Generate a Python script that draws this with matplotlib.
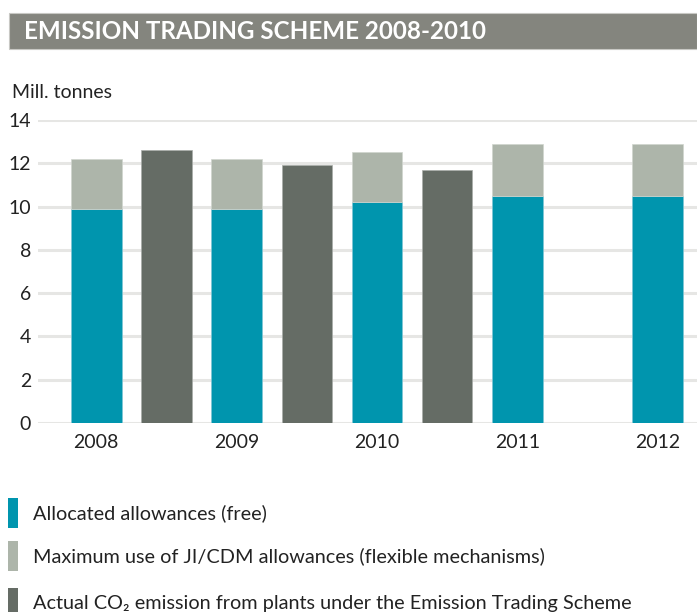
import matplotlib
matplotlib.use("Agg")
import matplotlib.pyplot as plt
from matplotlib.patches import Rectangle

# Data
years = ["2008", "2009", "2010", "2011", "2012"]
allocated = [9.9, 9.9, 10.2, 10.5, 10.5]
jicdm = [2.3, 2.3, 2.3, 2.4, 2.4]
actual_years = ["2008", "2009", "2010"]
actual = [12.6, 11.9, 11.7]

alloc_pos = [0, 2, 4, 6, 8]
actual_pos = [1, 3, 5]

c_alloc = "#0095ae"
c_jicdm = "#adb5aa"
c_actual = "#656c65"

FONT = ["Lato", "DejaVu Sans"]
plt.rcParams["font.family"] = FONT

W, H = 697, 612
fig = plt.figure(figsize=(W / 100, H / 100), dpi=100)

def fx(px):
    return px / W

def fy(py):
    return 1 - py / H

# Title bar
fig.add_artist(Rectangle((fx(9), fy(49)), fx(697) - fx(9), fy(13) - fy(49),
                         transform=fig.transFigure, facecolor="#84857e",
                         edgecolor="#c8c8c4", lw=0.8))
fig.text(fx(24), fy(31.5), "EMISSION TRADING SCHEME 2008-2010", color="white",
         fontsize=17.4, fontweight="bold", va="center", ha="left")

fig.text(fx(12), fy(92), "Mill. tonnes", fontsize=14, va="center", ha="left",
         color="#222222")

ax = fig.add_axes([fx(38), fy(423), fx(697) - fx(38), fy(120) - fy(423)])
ax.set_ylim(0, 14)
ax.set_xlim(-0.83, 8.56)
bw = 0.72
ax.bar(alloc_pos, allocated, width=bw, color=c_alloc, edgecolor="#7fc6d4",
       lw=0.5, zorder=3)
ax.bar(alloc_pos, jicdm, bottom=allocated, width=bw, color=c_jicdm,
       edgecolor="#d0d5ce", lw=0.5, zorder=3)
ax.bar(actual_pos, actual, width=bw, color=c_actual, edgecolor="#a9ada9",
       lw=0.5, zorder=3)

ax.set_yticks(range(0, 15, 2))
ax.set_xticks(alloc_pos)
ax.set_xticklabels(years)
ax.tick_params(axis="both", length=0, labelsize=14, colors="#222222")
ax.tick_params(axis="x", pad=8)
ax.tick_params(axis="y", pad=5)
ax.grid(axis="y", color="#e6e6e4", lw=2.2, zorder=0)
ax.set_axisbelow(True)
for s in ax.spines.values():
    s.set_visible(False)

# Legend
legend_items = [
    (c_alloc, "Allocated allowances (free)", 513),
    (c_jicdm, "Maximum use of JI/CDM allowances (flexible mechanisms)", 556),
    (c_actual, "Actual CO\u2082 emission from plants under the Emission Trading Scheme", 603),
]
for col, lab, yc in legend_items:
    fig.add_artist(Rectangle((fx(8), fy(yc + 15)), fx(18) - fx(8), fy(yc - 15) - fy(yc + 15),
                             transform=fig.transFigure, facecolor=col,
                             edgecolor="none"))
    fig.text(fx(33), fy(yc), lab, fontsize=14.3,
             va="center", ha="left", color="#222222")

fig.savefig("out.png", dpi=100)
